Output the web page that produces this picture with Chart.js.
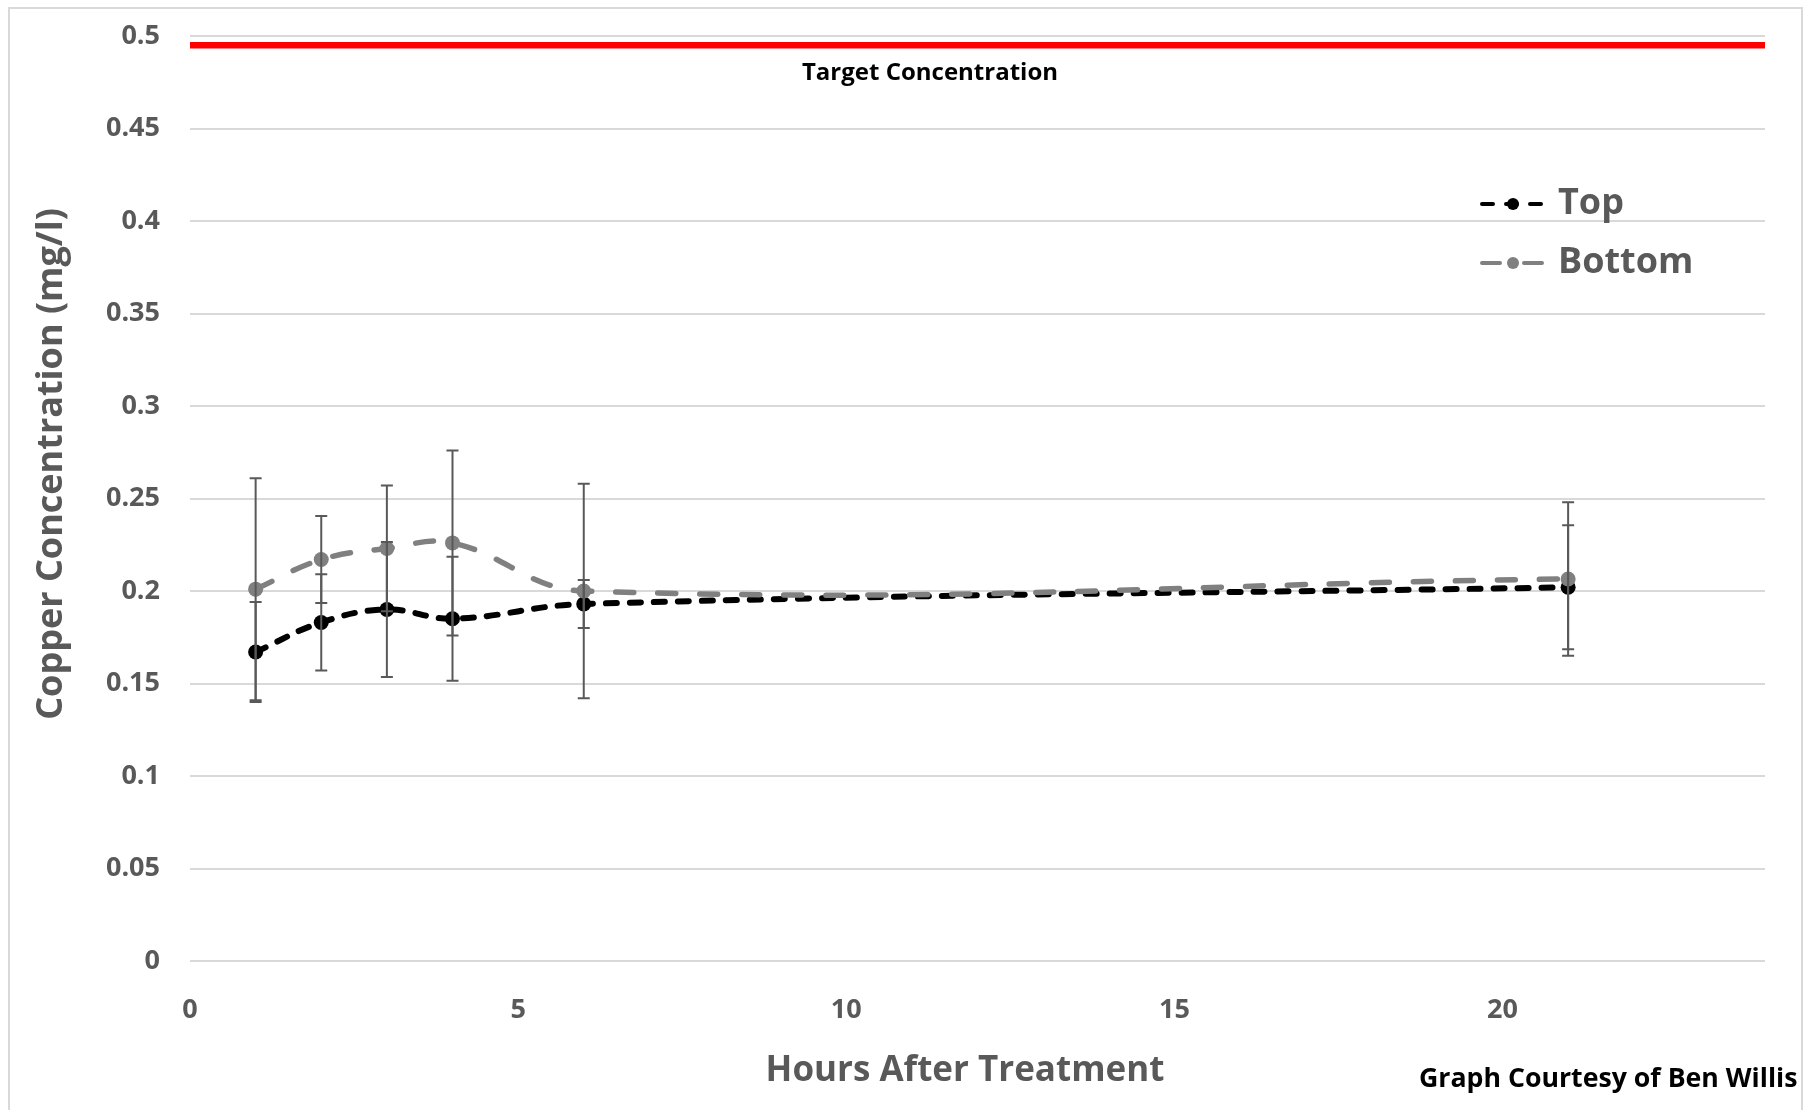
<!DOCTYPE html>
<html>
<head>
<meta charset="utf-8">
<script src="https://cdn.jsdelivr.net/npm/chart.js@4.4.1/dist/chart.umd.min.js"></script>
<style>
  html, body { margin: 0; padding: 0; background: #fff; overflow: hidden; }
  #frame { position: absolute; left: 8px; top: 7px; width: 1795px; height: 1200px; border: 2px solid #d9d9d9; box-sizing: border-box; }
  #chart { position: absolute; left: 0; top: 0; }
</style>
</head>
<body>
<div id="frame"></div>
<canvas id="chart" width="1814" height="1110"></canvas>
<script>
// hours after treatment at which samples were taken
const hours = [1, 2, 3, 4, 6, 21];

// mean copper concentration (mg/l) and error (+/-)
const topValues = [0.167, 0.183, 0.190, 0.185, 0.193, 0.202];
const topErrors = [0.027, 0.026, 0.0365, 0.0335, 0.013, 0.0335];
const bottomValues = [0.201, 0.217, 0.223, 0.226, 0.200, 0.2065];
const bottomErrors = [0.060, 0.0235, 0.034, 0.050, 0.058, 0.0415];

const targetConcentration = 0.495;

const xTickValues = [0, 5, 10, 15, 20];
const yTickValues = [0, 0.05, 0.1, 0.15, 0.2, 0.25, 0.3, 0.35, 0.4, 0.45, 0.5];

const FONT = "'Open Sans', 'Noto Sans', sans-serif";
const GREY_TEXT = '#595959';

const toPoints = (vals) => hours.map((h, i) => ({ x: h, y: vals[i] }));

// error bars, titles, notes and legend
const extras = {
    id: 'extras',
    afterDatasetsDraw(chart) {
        const { ctx, scales: { x, y } } = chart;
        ctx.save();
        ctx.strokeStyle = '#595959';
        ctx.lineWidth = 2;
        [[topValues, topErrors], [bottomValues, bottomErrors]].forEach(([vals, errs]) => {
            hours.forEach((h, i) => {
                const px = x.getPixelForValue(h);
                const hi = y.getPixelForValue(vals[i] + errs[i]);
                const lo = y.getPixelForValue(vals[i] - errs[i]);
                ctx.beginPath();
                ctx.moveTo(px, hi); ctx.lineTo(px, lo);
                ctx.moveTo(px - 6, hi); ctx.lineTo(px + 6, hi);
                ctx.moveTo(px - 6, lo); ctx.lineTo(px + 6, lo);
                ctx.stroke();
            });
        });
        ctx.restore();
    },
    afterDraw(chart) {
        const { ctx } = chart;
        ctx.save();
        ctx.textBaseline = 'middle';

        // axis titles
        ctx.fillStyle = GREY_TEXT;
        ctx.font = `bold 35px ${FONT}`;
        ctx.textAlign = 'center';
        ctx.fillText('Hours After Treatment', 965, 1071);
        ctx.save();
        ctx.translate(52, 464);
        ctx.rotate(-Math.PI / 2);
        ctx.font = `bold 36px ${FONT}`;
        ctx.fillText('Copper Concentration (mg/l)', 0, 0);
        ctx.restore();

        // notes
        ctx.fillStyle = '#000';
        ctx.font = `bold 24px ${FONT}`;
        ctx.fillText('Target Concentration', 930, 73);
        ctx.font = `bold 26.7px ${FONT}`;
        ctx.textAlign = 'left';
        ctx.fillText('Graph Courtesy of Ben Willis', 1419, 1079);

        // legend
        const rows = [{ ds: chart.data.datasets[1], y: 204 }, { ds: chart.data.datasets[0], y: 263 }];
        rows.forEach(({ ds, y }) => {
            ctx.strokeStyle = ds.borderColor;
            ctx.lineWidth = 4;
            ctx.lineCap = 'round';
            ctx.setLineDash(ds.borderDash);
            ctx.beginPath();
            ctx.moveTo(1482, y);
            ctx.lineTo(1543, y);
            ctx.stroke();
            ctx.setLineDash([]);
            ctx.fillStyle = ds.pointBackgroundColor;
            ctx.beginPath();
            ctx.arc(1513, y, 6, 0, Math.PI * 2);
            ctx.fill();
            ctx.fillStyle = GREY_TEXT;
            ctx.font = `bold 36px ${FONT}`;
            ctx.fillText(ds.label, 1558, y);
        });
        ctx.restore();
    }
};

new Chart(document.getElementById('chart').getContext('2d'), {
    type: 'line',
    data: {
        datasets: [
            {
                label: 'Bottom',
                data: toPoints(bottomValues),
                borderColor: '#808080',
                borderWidth: 5.5,
                borderDash: [18, 24],
                borderCapStyle: 'round',
                tension: 0.4,
                pointRadius: 7.5,
                pointBorderWidth: 0,
                pointBackgroundColor: '#808080'
            },
            {
                label: 'Top',
                data: toPoints(topValues),
                borderColor: '#000000',
                borderWidth: 6,
                borderDash: [11, 13],
                borderCapStyle: 'round',
                tension: 0.4,
                pointRadius: 7.5,
                pointBorderWidth: 0,
                pointBackgroundColor: '#000000'
            },
            {
                label: 'Target Concentration',
                data: [{ x: 0, y: targetConcentration }, { x: 24, y: targetConcentration }],
                borderColor: '#ff0000',
                borderWidth: 6.5,
                pointRadius: 0
            }
        ]
    },
    options: {
        responsive: false,
        animation: false,
        layout: { padding: { top: 36, right: 49, bottom: 0, left: 0 } },
        plugins: {
            legend: { display: false },
            tooltip: { enabled: false }
        },
        scales: {
            x: {
                type: 'linear',
                min: 0,
                max: 24,
                afterFit: (axis) => {
                    axis.height = 149;
                    axis.paddingLeft = 0;
                    axis.paddingRight = 0;
                },
                afterBuildTicks: (axis) => { axis.ticks = xTickValues.map(v => ({ value: v })); },
                grid: { display: false },
                border: { display: false },
                ticks: {
                    padding: 25,
                    color: GREY_TEXT,
                    font: { family: FONT, size: 27, weight: 'bold' },
                    callback: (v) => String(v)
                }
            },
            y: {
                min: 0,
                max: 0.5,
                afterFit: (axis) => {
                    axis.width = 190;
                    axis.paddingTop = 0;
                    axis.paddingBottom = 0;
                },
                afterBuildTicks: (axis) => { axis.ticks = yTickValues.map(v => ({ value: v })); },
                grid: { color: '#d9d9d9', lineWidth: 2, drawTicks: false },
                border: { display: false },
                ticks: {
                    padding: 30,
                    color: GREY_TEXT,
                    font: { family: FONT, size: 27, weight: 'bold' },
                    callback: (v) => String(v)
                }
            }
        }
    },
    plugins: [extras]
});
</script>
</body>
</html>
